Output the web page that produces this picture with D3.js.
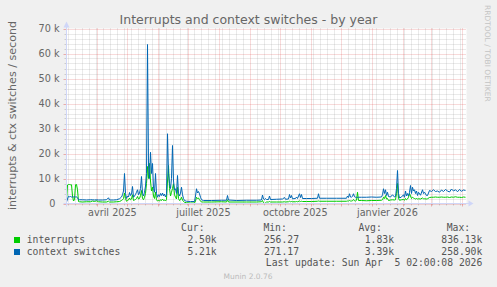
<!DOCTYPE html>
<html><head><meta charset="utf-8">
<script src="https://cdn.jsdelivr.net/npm/d3@7"></script>
<style>
html,body{margin:0;padding:0;background:#f0f0f0;}
svg{display:block;}
text{font-family:"DejaVu Sans",sans-serif;}
.mono{font-family:"DejaVu Sans Mono",monospace;white-space:pre;}
</style></head><body>
<svg id="c" width="497" height="287"></svg>
<script>
// ---- data ----
const startTime = Date.UTC(2025, 2, 1, 2, 0, 8);
const endTime = Date.UTC(2026, 3, 5, 2, 0, 8);
const dayOffsets = [0,1,2,3,4,5,6,7,8,9,10,11,12,13,16,20,24,26,28,30,32,36,40,42,43,47,50,53,55,56,57,58,59,60,61,62,63,64,65,66,67,68,69,70,71,72,73,74,75,76,77,78,79,80,81,82,83,84,85,86,87,88,89,90,91,92,93,94,95,96,97,98,99,100,101,102,103,104,105,106,107,108,109,110,111,112,113,114,115,116,117,118,120,124,128,129,130,131,132,133,134,135,137,145,155,160,161,162,170,180,190,195,196,197,198,199,200,202,203,204,210,216,218,219,222,223,224,225,226,229,230,231,233,234,235,236,240,245,251,252,253,260,270,280,281,282,283,284,285,286,287,288,289,290,291,292,295,300,305,310,315,316,317,318,319,320,321,322,324,326,328,329,330,331,332,333,335,337,338,339,340,341,342,343,344,345,346,347,348,349,350,351,352,354,356,357,358,360,361,363,365,367,369,371,373,375,377,379,381,383,385,387,389,391,393,395,397,399];
// context switches per second (thousands)
const contextSwitchesK = [0.6,1.8,2.9,2.7,2.8,2.6,2.7,2.6,2.7,2.6,2.7,2.2,1.6,1.5,1.5,1.4,1.5,1.5,1.4,1.5,1.4,1.4,1.5,2.3,1.4,1.4,1.5,1.9,2.6,3.5,5.0,12.0,4.0,2.0,3.0,2.6,4.4,3.2,3.8,6.8,2.5,3.0,3.6,4.5,5.5,3.5,4.2,6.0,10.8,4.0,3.0,4.5,7.0,12.0,63.6,15.0,10.0,20.5,12.0,16.0,6.0,4.5,12.0,4.0,2.5,3.5,2.8,4.0,3.2,4.2,3.0,3.8,2.6,3.5,27.9,12.0,8.0,6.0,10.0,23.2,9.0,5.5,5.9,4.0,11.2,4.0,3.0,4.2,6.5,3.5,2.0,1.2,0.9,0.8,0.8,3.0,5.9,4.2,4.8,3.9,2.5,1.5,1.2,1.2,1.3,1.3,3.2,1.4,1.2,1.3,1.3,1.4,3.4,1.8,1.5,2.0,1.6,1.6,3.0,1.6,1.7,1.8,2.4,1.7,1.8,3.6,2.2,3.2,1.9,2.0,2.6,2.0,3.9,2.4,3.6,2.0,2.0,2.0,2.1,3.9,2.1,2.1,2.1,2.1,3.0,2.4,3.9,2.6,2.5,2.9,3.9,2.7,2.5,2.5,2.4,2.5,2.5,2.5,2.6,2.5,2.6,3.5,5.9,4.0,5.5,3.2,4.5,2.8,2.6,3.5,2.6,2.8,6.0,13.2,4.0,2.2,2.6,3.5,2.5,5.0,3.0,4.0,3.0,4.5,7.2,4.0,6.5,5.0,5.5,4.0,5.0,3.2,4.5,3.3,5.5,4.0,4.5,3.2,3.2,5.2,4.8,5.5,4.8,5.0,4.5,5.4,4.8,5.6,5.0,4.6,5.8,5.0,5.5,4.7,5.6,4.9,5.4,5.21];
// interrupts per second (thousands)
const interruptsK = [1.0,7.4,7.6,7.6,7.5,7.5,3.0,1.0,1.5,7.5,7.6,5.5,0.8,0.7,0.6,0.7,0.7,1.0,0.8,1.1,0.7,0.6,0.6,0.9,0.6,0.6,0.7,0.8,1.2,1.5,2.0,4.2,2.0,0.9,1.2,1.4,2.2,1.5,1.8,3.5,1.2,1.4,1.6,2.0,2.8,1.8,2.0,3.2,5.2,2.0,1.5,2.5,4.0,8.0,14.8,10.0,16.0,9.0,5.0,6.5,3.0,2.0,4.5,1.5,1.0,1.2,1.0,1.5,1.2,1.8,1.2,1.4,1.0,1.6,9.0,15.2,6.0,3.0,4.5,6.0,7.9,3.5,2.5,1.8,6.5,2.0,1.2,1.5,2.5,1.4,0.8,0.5,0.3,0.2,0.2,1.0,2.5,2.0,2.2,1.5,1.0,0.6,0.6,0.6,0.7,0.6,1.5,0.6,0.6,0.6,0.6,0.7,1.2,0.3,0.0,0.3,0.6,0.6,0.8,0.6,0.6,0.6,0.7,0.6,0.7,0.9,0.7,0.8,0.7,0.7,0.8,0.7,1.0,0.8,0.9,0.8,0.8,0.8,0.9,1.0,0.9,0.9,0.9,0.9,1.0,1.0,1.2,1.0,1.0,1.1,1.6,1.1,1.0,1.3,4.5,1.2,1.2,1.1,1.2,1.2,1.3,1.5,2.5,2.0,3.2,1.8,2.0,1.2,1.4,1.5,1.4,1.5,4.0,8.0,2.0,1.3,1.5,1.6,1.3,2.0,1.5,1.8,2.5,4.0,3.0,2.0,2.5,2.2,2.0,1.8,2.0,1.8,1.9,1.8,2.2,1.9,1.9,1.8,1.9,2.4,2.5,2.5,2.6,2.5,2.5,2.6,2.5,2.5,2.6,2.4,2.6,2.5,2.7,2.5,2.5,2.4,2.6,2.50];
const yTickValuesK = [0,10,20,30,40,50,60,70];
const yTickLabels = ["0","10 k","20 k","30 k","40 k","50 k","60 k","70 k"];
const xLabelDates = [Date.UTC(2025,3,1), Date.UTC(2025,6,1), Date.UTC(2025,9,1), Date.UTC(2026,0,1)];
const xLabelTexts = ["avril 2025","juillet 2025","octobre 2025","janvier 2026"];
const seriesNames = ["interrupts","context switches"];
const seriesColors = ["#00cc00","#0066b3"];
const legendHeaders = ["Cur:","Min:","Avg:","Max:"];
const legendValues = [["2.50k","256.27","1.83k","836.13k"],["5.21k","271.17","3.39k","258.90k"]];
const lastUpdate = "Last update: Sun Apr  5 02:00:08 2026";

// ---- drawing ----
const svg = d3.select("#c");
const L = 66.5, R = 466.5, T = 28.5, B = 203.5;
const x = d3.scaleUtc().domain([new Date(startTime), new Date(endTime)]).range([L, R]);
const y = d3.scaleLinear().domain([0, 70]).range([B, T]);

svg.append("rect").attr("width",497).attr("height",287).attr("fill","#f0f0f0");
svg.append("rect").attr("x",L).attr("y",T).attr("width",R-L).attr("height",B-T).attr("fill","#ffffff");

const minorC = "rgba(143,143,143,0.38)", majorC = "rgba(222,79,79,0.42)";
const grid = svg.append("g");
// minor horizontal (2k)
d3.range(2, 70, 2).filter(v => v % 10 !== 0).forEach(v => {
  const yy = Math.round(y(v)) + 0.5;
  grid.append("line").attr("x1",L).attr("x2",R).attr("y1",yy).attr("y2",yy)
    .attr("stroke",minorC).attr("stroke-dasharray","1,1");
  grid.append("line").attr("x1",L-2).attr("x2",L).attr("y1",yy).attr("y2",yy).attr("stroke",minorC);
});
// minor vertical (weeks)
const months = d3.utcMonth.range(new Date(startTime), new Date(endTime));
const monthSet = new Set(months.map(d => Math.round(x(d))));
d3.utcMonday.range(new Date(startTime), new Date(endTime)).forEach(d => {
  const xx = Math.round(x(d)) + 0.5;
  if (monthSet.has(Math.round(x(d)))) return;
  grid.append("line").attr("x1",xx).attr("x2",xx).attr("y1",T).attr("y2",B)
    .attr("stroke",minorC).attr("stroke-dasharray","1,1");
  grid.append("line").attr("x1",xx).attr("x2",xx).attr("y1",B).attr("y2",B+2).attr("stroke",minorC);
});
// major horizontal
yTickValuesK.forEach(v => {
  const yy = Math.round(y(v)) + 0.5;
  grid.append("line").attr("x1",L).attr("x2",R).attr("y1",yy).attr("y2",yy)
    .attr("stroke",majorC).attr("stroke-dasharray","1,1");
  grid.append("line").attr("x1",L-3).attr("x2",L).attr("y1",yy).attr("y2",yy).attr("stroke",majorC);
});
// major vertical (months)
months.forEach(d => {
  const xx = Math.round(x(d)) + 0.5;
  grid.append("line").attr("x1",xx).attr("x2",xx).attr("y1",T).attr("y2",B)
    .attr("stroke",majorC).attr("stroke-dasharray","1,1");
  grid.append("line").attr("x1",xx).attr("x2",xx).attr("y1",B).attr("y2",B+3).attr("stroke",majorC);
});

// series
const dates = dayOffsets.map(o => new Date(startTime + o * 86400000));
const line = d3.line().x((d,i) => x(dates[i])).y(d => y(d));
[interruptsK, contextSwitchesK].forEach((s, k) => {
  svg.append("path").attr("d", line(s)).attr("fill","none")
    .attr("stroke", seriesColors[k]).attr("stroke-width",1).attr("stroke-linejoin","round");
});

// axes
const axisColor = "#cfd6f8";
svg.append("line").attr("x1",L).attr("x2",L).attr("y1",B+3).attr("y2",T-4).attr("stroke",axisColor);
svg.append("path").attr("d",`M${L-3},${T-1}L${L+3},${T-1}L${L},${T-7}Z`).attr("fill",axisColor);
svg.append("line").attr("x1",L-3).attr("x2",R+3).attr("y1",B).attr("y2",B).attr("stroke",axisColor);
svg.append("path").attr("d",`M${R+2},${B-3}L${R+2},${B+3}L${R+7},${B}Z`).attr("fill",axisColor);

// y labels
svg.append("g").selectAll("text").data(yTickValuesK).join("text")
  .attr("x", (d,i) => i === 0 ? 55.5 : 59.5).attr("y", d => y(d) + 3.6)
  .attr("text-anchor","end").attr("font-size","9.7px").attr("fill","#666")
  .text((d,i) => yTickLabels[i]);

// x labels (centered mid-month like rrdtool)
svg.append("g").selectAll("text").data(xLabelDates).join("text")
  .attr("x", d => x(new Date(d + 15 * 86400000))).attr("y", 216.3)
  .attr("text-anchor","middle").attr("font-size","9.7px").attr("fill","#666")
  .text((d,i) => xLabelTexts[i]);

// title
svg.append("text").attr("x",248.5).attr("y",23.5).attr("text-anchor","middle")
  .attr("font-size","12.5px").attr("fill","#666").text("Interrupts and context switches - by year");
// vertical label
svg.append("text").attr("transform","translate(15.5,115.5) rotate(-90)").attr("text-anchor","middle")
  .attr("font-size","11.1px").attr("fill","#666").text("interrupts & ctx switches / second");
// rrdtool watermark
svg.append("text").attr("transform","translate(485,5) rotate(90)")
  .attr("font-size","7.5px").attr("fill","#c4c4c4").text("RRDTOOL / TOBI OETIKER");

// legend
const colEnds = [216.7, 299, 394, 482.3];
const lg = svg.append("g").attr("class","mono").attr("font-size","9.72px").attr("fill","#555");
lg.selectAll("text.h").data(legendHeaders).join("text").attr("class","mono h")
  .attr("x",(d,i) => colEnds[i] - 12.2).attr("y",231).attr("text-anchor","end").text(d => d);
seriesNames.forEach((n, k) => {
  const by = 242.5 + k * 12;
  svg.append("rect").attr("x",14).attr("y",by-5.5).attr("width",6).attr("height",6).attr("fill",seriesColors[k]);
  lg.append("text").attr("class","mono").attr("x",26.7).attr("y",by).text(n);
  legendValues[k].forEach((v, j) => {
    lg.append("text").attr("class","mono").attr("x",colEnds[j]).attr("y",by).attr("text-anchor","end").text(v);
  });
});
lg.append("text").attr("class","mono").attr("x",482.3).attr("y",266).attr("text-anchor","end").text(lastUpdate);
svg.append("text").attr("x",248).attr("y",279).attr("text-anchor","middle")
  .attr("font-size","7.5px").attr("fill","#bbb").text("Munin 2.0.76");
</script>
</body></html>
